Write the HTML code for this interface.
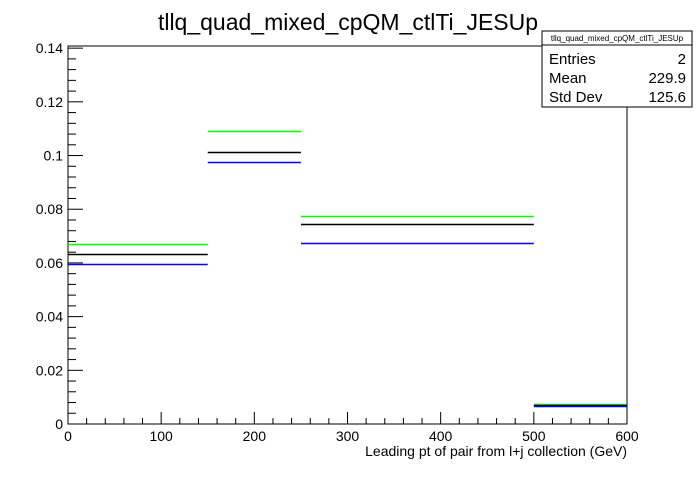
<!DOCTYPE html>
<html><head><meta charset="utf-8"><style>
body{margin:0;background:#fff;}
svg text{font-family:"Liberation Sans",sans-serif;}
</style></head><body>
<svg id="c" width="696" height="472" xmlns="http://www.w3.org/2000/svg">
<rect width="696" height="472" fill="#fff"/>
<text x="348" y="30" font-size="23" text-anchor="middle">tllq_quad_mixed_cpQM_ctlTi_JESUp</text>
<g id="axes"></g>
<g id="marks"></g>
<text x="627" y="456" font-size="14" text-anchor="end">Leading pt of pair from l+j collection (GeV)</text>
<g>
<rect x="542" y="31" width="150" height="76" fill="#fff" stroke="#000"/>
<line x1="542" y1="45" x2="692" y2="45" stroke="#000"/>
<text x="617" y="41" font-size="8" text-anchor="middle">tllq_quad_mixed_cpQM_ctlTi_JESUp</text>
<text x="549" y="64" font-size="15">Entries</text><text x="686" y="64" font-size="15" text-anchor="end">2</text>
<text x="549" y="83" font-size="15">Mean</text><text x="686" y="83" font-size="15" text-anchor="end">229.9</text>
<text x="549" y="102" font-size="15">Std Dev</text><text x="686" y="102" font-size="15" text-anchor="end">125.6</text>
</g>
</svg>
<script>
const binEdges=[0,150,250,500,600];
const greenVals=[0.0672,0.1090,0.0773,0.0075];
const blackVals=[0.0635,0.1015,0.0745,0.0071];
const blueVals=[0.0595,0.0975,0.0675,0.0067];
const xTicks=[0,100,200,300,400,500,600];
const yTicks=[0,0.02,0.04,0.06,0.08,0.1,0.12,0.14];
const yTickLabels=["0","0.02","0.04","0.06","0.08","0.1","0.12","0.14"];
const X0=68,X1=627,Y0=424,Y1=46,XMAX=600,YMAX=0.1408;
const sx=v=>X0+(X1-X0)*v/XMAX;
const sy=v=>Y0-(Y0-Y1)*v/YMAX;
const NS="http://www.w3.org/2000/svg";
function mk(p,t,a){const e=document.createElementNS(NS,t);for(const k in a)e.setAttribute(k,a[k]);p.appendChild(e);return e;}
const ax=document.getElementById('axes');
const frame=mk(ax,'rect',{x:X0,y:Y1,width:X1-X0,height:Y0-Y1,fill:'none',stroke:'#000'});


for(let v=0;v<=XMAX+0.01;v+=20){const maj=v%100===0;mk(ax,'line',{x1:sx(v),x2:sx(v),y1:Y0,y2:Y0-(maj?12:6),stroke:'#000'});}
xTicks.forEach(v=>{const t=mk(ax,'text',{x:sx(v),y:Y0+17,'font-size':14,'text-anchor':'middle'});t.textContent=v;

});
for(let i=0;i*0.004<=YMAX;i++){const v=i*0.004;const maj=i%5===0;mk(ax,'line',{x1:X0,x2:X0+(maj?15:8),y1:sy(v),y2:sy(v),stroke:'#000'});}
yTicks.forEach((v,i)=>{const t=mk(ax,'text',{x:X0-5,y:sy(v)+5,'font-size':14,'text-anchor':'end'});t.textContent=yTickLabels[i];

});
const mg=document.getElementById('marks');
[[greenVals,'#00ff00','green'],[blackVals,'#000','black'],[blueVals,'#0000ff','blue']].forEach(([vals,col,n])=>{
vals.forEach((v,i)=>{const l=mk(mg,'line',{x1:sx(binEdges[i]),x2:sx(binEdges[i+1]),y1:Math.round(sy(v))+0.5,y2:Math.round(sy(v))+0.5,stroke:col,'stroke-width':1.5});

});});
</script>
</body></html>
